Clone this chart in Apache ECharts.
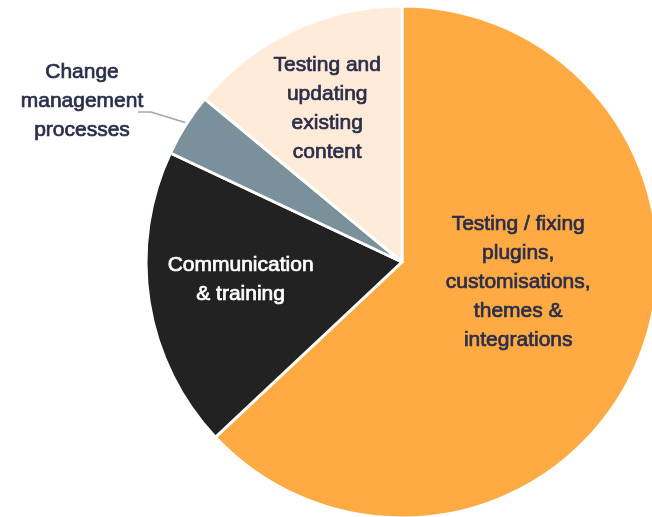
<!DOCTYPE html>
<html>
<head>
<meta charset="utf-8">
<script src="https://cdn.jsdelivr.net/npm/echarts@6/dist/echarts.min.js"></script>
<style>html,body{margin:0;padding:0;background:#fff}#c{width:652px;height:517px}</style>
</head>
<body>
<div id="c"></div>
<script>
const categories = [
  'Testing / fixing\nplugins,\ncustomisations,\nthemes &\nintegrations',
  'Communication\n& training',
  'Change\nmanagement\nprocesses',
  'Testing and\nupdating\nexisting\ncontent'
];
const values = [63, 19, 4, 14];
const colors = ['#FFAA42', '#222222', '#7A909B', '#FFEBD8'];
const textColors = ['#2A2E4A', '#FFFFFF', '#2A2E4A', '#2A2E4A'];

const labelShift = [[-4, -32], [-32, -3], null, [-19, -35]];

const chart = echarts.init(document.getElementById('c'), null, {renderer: 'canvas'});
chart.setOption({
  animation: false,
  series: [{
    type: 'pie',
    center: [402, 262],
    radius: 256,
    startAngle: 90,
    clockwise: true,
    avoidLabelOverlap: false,
    emphasis: {disabled: true},
    itemStyle: {borderColor: '#FFFFFF', borderWidth: 3},
    label: {
      fontFamily: 'Liberation Sans, Arial, sans-serif',
      fontSize: 21,
      lineHeight: 29,
      align: 'center'
    },
    labelLine: {lineStyle: {color: '#A6A6A6', width: 1.5}},
    labelLayout: function (p) {
      const i = p.dataIndex;
      if (i === 2) {
        const s = p.labelLinePoints ? p.labelLinePoints[0] : [186, 126];
        return {
          x: 82, y: 101, align: 'center', verticalAlign: 'middle',
          labelLinePoints: [[s[0], s[1] - 2], [151, 112], [138, 112]]
        };
      }
      const d = labelShift[i];
      return {dx: d[0], dy: d[1]};
    },
    data: categories.map((name, i) => ({
      name: name,
      value: values[i],
      itemStyle: {color: colors[i]},
      label: {
        show: true,
        position: i === 2 ? 'outside' : 'inside',
        color: textColors[i],
        textBorderColor: textColors[i],
        textBorderWidth: 0.7,
        formatter: '{b}'
      },
      labelLine: {show: i === 2, length: 10, length2: 30}
    }))
  }]
});
</script>
</body>
</html>
